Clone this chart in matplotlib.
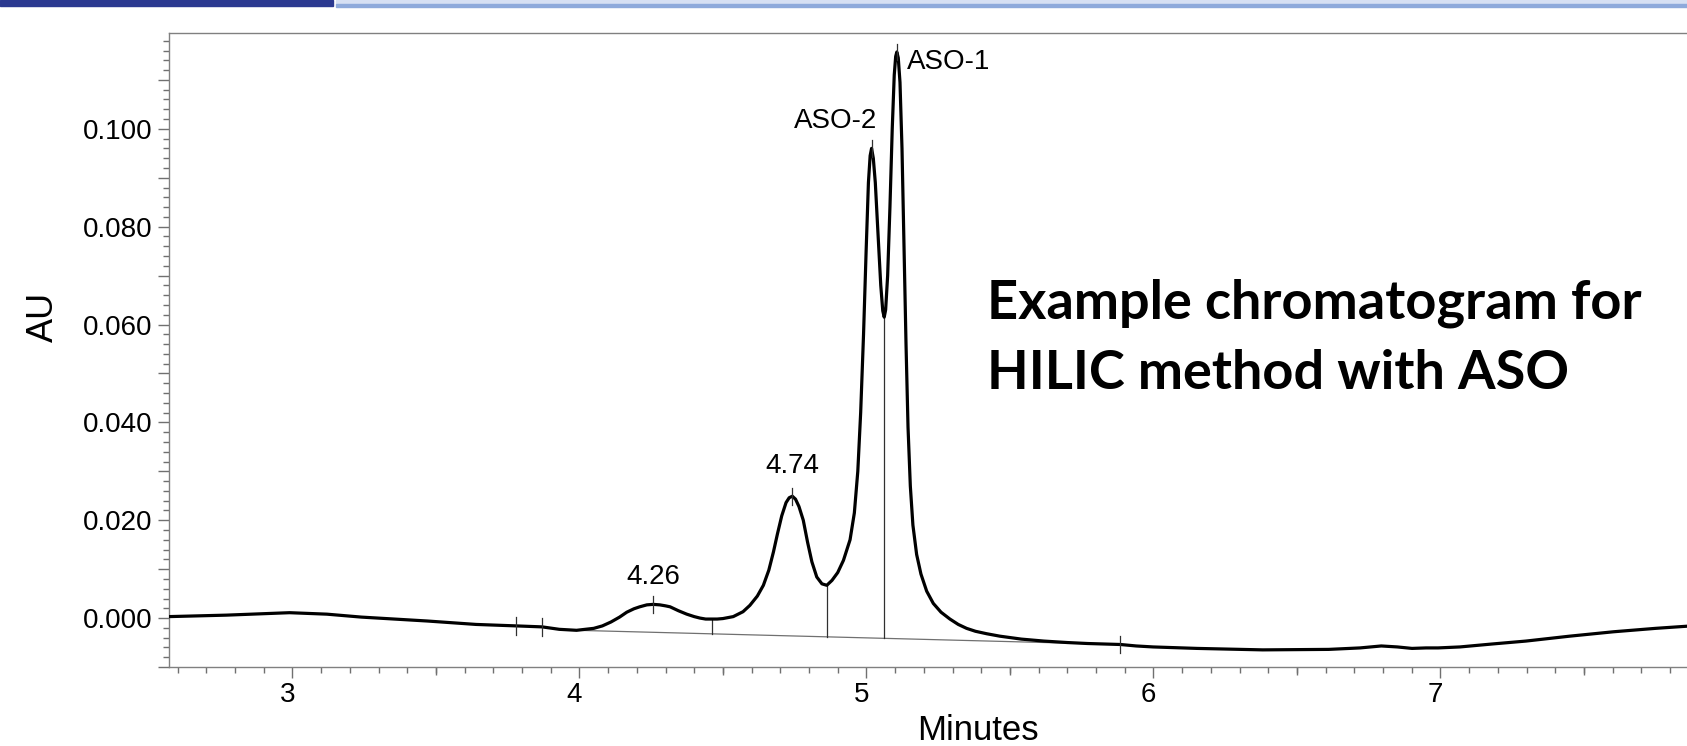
import numpy as np
import matplotlib
matplotlib.use('Agg')
import matplotlib.pyplot as plt
from matplotlib.patches import Rectangle
from matplotlib.ticker import MultipleLocator, FuncFormatter
from matplotlib.transforms import ScaledTranslation

plt.rcParams['font.family'] = ['Liberation Sans', 'DejaVu Sans']

# trace (minutes, AU)
time = [2.570, 2.77, 2.99, 3.12, 3.24, 3.47, 3.64, 3.78, 3.87, 3.93, 3.99,
        4.05, 4.08, 4.11, 4.14, 4.165, 4.19, 4.21, 4.235, 4.257, 4.28, 4.30,
        4.316, 4.345, 4.374, 4.40, 4.42, 4.44, 4.461, 4.48, 4.50,
        4.536, 4.57, 4.594, 4.62, 4.641, 4.66, 4.676, 4.69, 4.705, 4.72,
        4.731, 4.742, 4.753, 4.765, 4.780, 4.795, 4.810, 4.827, 4.845,
        4.862, 4.88, 4.90, 4.92, 4.943, 4.958, 4.970, 4.980, 4.990, 4.999,
        5.007, 5.013, 5.018, 5.024, 5.031, 5.040, 5.050, 5.057, 5.062,
        5.067, 5.074, 5.082, 5.090, 5.097, 5.102, 5.106, 5.111, 5.117,
        5.124, 5.131, 5.138, 5.145, 5.153, 5.162, 5.175, 5.19, 5.21, 5.233,
        5.26, 5.291, 5.32, 5.349, 5.38, 5.419, 5.465, 5.54, 5.618, 5.70,
        5.771, 5.885, 5.94, 5.999, 6.152, 6.381, 6.611, 6.72, 6.794, 6.85,
        6.901, 6.95, 6.992, 7.068, 7.18, 7.298, 7.45, 7.603, 7.75, 7.90]
signal = [0.0003, 0.0006, 0.0011, 0.0008, 0.0002, -0.0006, -0.0013, -0.0016,
          -0.0018, -0.0023, -0.0025,
          -0.0021, -0.0016, -0.0008, 0.0002, 0.0012, 0.0019, 0.0023, 0.0027,
          0.0028, 0.0027, 0.0025,
          0.0023, 0.0015, 0.0008, 0.0003, 0.0000, -0.0002, -0.0002, -0.0002,
          -0.0001,
          0.0003, 0.0013, 0.0026, 0.0045, 0.0067, 0.0098, 0.0135, 0.0172,
          0.0209, 0.0236,
          0.0246, 0.0249, 0.0243, 0.0228, 0.0200, 0.0155, 0.0115, 0.0084,
          0.0070,
          0.0067, 0.0077, 0.0093, 0.0118, 0.0160, 0.0215, 0.0300, 0.0420,
          0.0580, 0.0750,
          0.0890, 0.0945, 0.0960, 0.0940, 0.0890, 0.0790, 0.0680, 0.0628,
          0.0615,
          0.0630, 0.0700, 0.0840, 0.1000, 0.1110, 0.1148, 0.1157, 0.1145,
          0.1095,
          0.0960, 0.0760, 0.0560, 0.0390, 0.0270, 0.0190, 0.0130, 0.0090,
          0.0055, 0.0030,
          0.0012, -0.0002, -0.0013, -0.0021, -0.0027, -0.0032, -0.0037,
          -0.0043, -0.0047, -0.0050,
          -0.0052, -0.0054, -0.0057, -0.0059, -0.0062, -0.0065, -0.0064,
          -0.0061, -0.0057, -0.0059,
          -0.0062, -0.0061, -0.0061, -0.0059, -0.0053, -0.0047, -0.0037,
          -0.0028, -0.0021, -0.0015]

peak_times = [4.257, 4.742, 5.018, 5.106]
peak_labels = ['4.26', '4.74', 'ASO-2', 'ASO-1']
drop_times = [4.461, 4.862, 5.062]
mark_times = [3.78, 3.87, 5.885]
baseline_times = [3.99, 5.885]
baseline_values = [-0.0025, -0.0054]

W, H, DPI = 1687, 746, 100
fig = plt.figure(figsize=(W / DPI, H / DPI), dpi=DPI)

# slide header strip
fig.patches.append(Rectangle((0, 1 - 5.5 / H), 333 / W, 5.5 / H, transform=fig.transFigure,
                             color='#2b3990', zorder=0))
fig.patches.append(Rectangle((336 / W, 1 - 4 / H), 1, 4 / H, transform=fig.transFigure,
                             color='#d6e0f3', zorder=0))
fig.patches.append(Rectangle((336 / W, 1 - 6.5 / H), 1, 2.5 / H, transform=fig.transFigure,
                             color='#8eaadb', zorder=0))

x0, x1 = 2.57, 7.87
ax = fig.add_axes([169 / W, 1 - 667 / H, (x1 - x0) * 287 / W, (667 - 33.4) / H])
ax.set_xlim(x0, x1)
ax.set_ylim(-0.010, 0.1195)

ax.plot(time, signal, color='black', lw=2.3, solid_joinstyle='round', zorder=3)

# integration baseline and drop lines
ax.plot(baseline_times, baseline_values, color='#707070', lw=0.9, zorder=2)
for t in drop_times:
    top = np.interp(t, time, signal)
    bot = np.interp(t, baseline_times, baseline_values)
    ax.plot([t, t], [bot, top], color='#303030', lw=0.9, zorder=2)

for t in mark_times:
    v = np.interp(t, time, signal)
    ax.plot([t, t], [v - 0.0018, v + 0.0018], color='#303030', lw=0.9, zorder=4)

label_style = [dict(xytext=(0, 15), ha='center'),
               dict(xytext=(0, 17), ha='center'),
               dict(xytext=(4, 15), ha='right'),
               dict(xytext=(7, -12), ha='left')]
for t, lab, st in zip(peak_times, peak_labels, label_style):
    v = np.interp(t, time, signal)
    ax.plot([t, t], [v - 0.0017, v + 0.0017], color='#303030', lw=0.9, zorder=4)
    ax.annotate(lab, (t, v), textcoords='offset points', va='baseline',
                fontsize=20, **st)

# axes styling
ax.spines['right'].set_visible(False)
for sp in ax.spines.values():
    sp.set_color('#808080')
    sp.set_linewidth(1.0)

ax.xaxis.set_major_locator(MultipleLocator(1))
ax.xaxis.set_minor_locator(MultipleLocator(0.1))
ax.yaxis.set_major_locator(MultipleLocator(0.01))
ax.yaxis.set_minor_locator(MultipleLocator(0.002))
ax.yaxis.set_major_formatter(FuncFormatter(
    lambda v, _: f'{v:.3f}' if abs(round(v / 0.02) * 0.02 - v) < 1e-9 else ''))
ax.tick_params(which='major', length=8, width=1, color='#707070', labelsize=20, pad=4)
ax.tick_params(which='minor', length=4.5, width=1, color='#707070')
ax.tick_params(axis='x', which='major', pad=3)

# x labels sit a little left of their ticks in the original
shift = ScaledTranslation(-5 / DPI, 0, fig.dpi_scale_trans)
for tick in ax.xaxis.get_major_ticks():
    tick.label1.set_transform(tick.label1.get_transform() + shift)

half = ax.secondary_xaxis('bottom')
half.set_xticks(np.arange(2.5, 8.0, 1.0))
half.tick_params(length=6, width=1, color='#707070', labelbottom=False)
half.spines['bottom'].set_visible(False)

fig.text(43 / W, 1 - 317 / H, 'AU', rotation=90, ha='center', va='center', fontsize=26)
fig.text(978 / W, 1 - 730 / H, 'Minutes', ha='center', va='center', fontsize=25)

fig.text(987 / W, 1 - 319 / H, 'Example chromatogram for', fontsize=39,
         fontweight='bold', family=['Lato', 'DejaVu Sans'], va='baseline')
fig.text(987 / W, 1 - 389 / H, 'HILIC method with ASO', fontsize=39,
         fontweight='bold', family=['Lato', 'DejaVu Sans'], va='baseline')

fig.savefig('out.png', dpi=DPI)
